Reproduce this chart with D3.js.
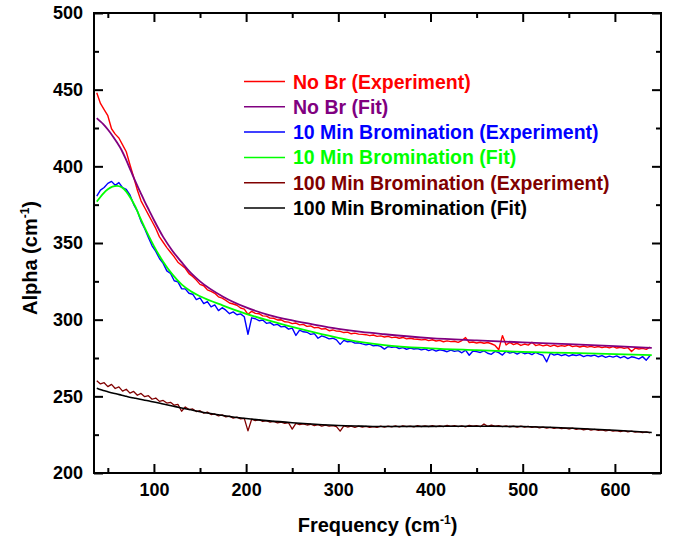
<!DOCTYPE html>
<html>
<head>
<meta charset="utf-8">
<script src="https://cdn.jsdelivr.net/npm/d3@7"></script>
<style>
  body { margin: 0; background: #fff; }
  svg text { font-family: "Liberation Sans", Arial, sans-serif; font-weight: bold; }
</style>
</head>
<body>
<svg id="chart" width="680" height="544"></svg>
<script>
// measured frequencies (cm-1) for the experiment curves, every 4 cm-1
const expFreq = d3.range(38, 639, 4);

const noBrExp = [
  448, 441, 437, 433, 424.5, 421, 418.5, 414, 409.5, 401, 393, 384.5, 377.5, 373, 368.5, 364, 359.5, 354, 350.5, 347, 344, 341, 337.5, 335.5,
  333.5, 330, 328.2, 325.8, 323, 322.1, 319.5, 318.4, 317.2, 314.9, 314, 312.6, 310.9, 310.2, 309.4, 307.6, 306.9, 303.5, 305.4, 304.1, 303.9, 302.5, 302.3, 301, 300.9, 299.8, 299.9, 298.6, 298.4, 297.4,
  297.8, 296.6, 296.9, 295.6, 295.9, 294.7, 295, 293.9, 294.1, 292.8, 293.3, 292.5, 292.4, 291.6, 291.9, 290.8, 291.2, 290.6, 290.4, 290.2, 289.6, 290, 289.1, 289.4, 288.7,
  289.1, 288.3, 288.6, 287.9, 288.4, 287.5, 287.9, 287.4, 287.2, 286.8, 287.1, 286.3, 286.9, 286.1, 286.5, 285.6, 286.2, 285.7, 285.9, 285.2, 286.4, 288.3, 285.1, 285.4, 284.8,
  285.3, 284.6, 285.1, 284.3, 283.2, 280.4, 289.6, 283.5, 285.2, 283.7, 284.6, 283.2, 284.1, 283.4, 285.3, 283.1, 283.7, 282.9, 283.5, 282.6, 283.4, 282.5, 283.1, 282.7, 283.6,
  282.4, 282.9, 282.2, 282.8, 282.1, 282.6, 281.9, 282.5, 281.8, 282.3, 281.6, 282.4, 281.5, 282, 281.3, 281.8, 279.2, 281.4, 280.9, 281.3, 280.6, 282.1
];

const min10Exp = [
  380.5, 384.5, 386.2, 388.9, 390.2, 387.6, 389.4, 386.1, 384.9, 381.3, 375.2, 370.8, 364.1, 359.3, 353.6, 348.2, 344.5, 339.9, 336.7, 331.8, 330.1, 325.4, 324.6, 320.2,
  320.1, 317.2, 316.6, 313.1, 314.2, 310.5, 311.8, 308.4, 309.6, 305.9, 307.8, 306.2, 303.9, 305.1, 303.2, 303.8, 301.9, 290.5, 301.2, 300.6, 299.3, 299.8, 297.6, 298.1, 296.4, 296.9, 295.3, 295.6, 293.8, 294.5,
  289.7, 293.2, 292.1, 291.8, 290.4, 290.9, 287.9, 289.4, 288.6, 287.5, 287.9, 286.8, 283.9, 286.5, 285.6, 285.9, 284.7, 284.9, 284.2, 283.6, 284.1, 282.9, 283.3, 282.6, 280.8,
  282.5, 281.9, 282.3, 281.2, 281.8, 280.7, 281.4, 280.9, 281.2, 280.3, 280.9, 279.8, 280.6, 279.5, 280.4, 279.9, 279.1, 280.2, 279.3, 279.8, 278.4, 280.1, 276.8, 279.6, 279.2,
  278.6, 279.7, 278.1, 277.4, 279.3, 278.5, 276.9, 279.4, 278.2, 278.8, 277.6, 278.9, 277.8, 278.4, 277.2, 278.6, 277.5, 276.8, 272.5, 278.1, 276.9, 277.6, 276.5, 277.3, 276.2,
  277.1, 276.6, 277.2, 275.9, 276.7, 276.3, 276.9, 275.8, 276.6, 275.4, 276.2, 275.6, 276.4, 275.1, 276, 274.6, 275.8, 275.3, 274.4, 275.9, 273.6, 276.5
];

const min100Exp = [
  260.2, 258.1, 258.9, 256.3, 257.8, 255.1, 256.2, 253.4, 254.6, 252.1, 253.2, 250.7, 251.9, 249.8, 250.4, 248.1, 248.9, 246.7, 247.3, 245.6, 246.1, 244.2, 244.8, 240.3,
  243.1, 241.4, 241.8, 240.1, 240.6, 239, 239.7, 238.1, 238.5, 237.2, 237.9, 236.6, 237.1, 235.8, 236.4, 235.3, 235.6, 227.5, 235.1, 234.2, 234.8, 233.6, 234.1, 233.2, 233.6, 232.7, 233.2, 232.3, 232.8, 228.6,
  232.4, 231.6, 232.1, 231.3, 231.8, 230.9, 231.5, 230.6, 231.2, 230.5, 230.9, 230.2, 227.3, 230.8, 230, 230.6, 229.8, 230.5, 229.9, 230.4, 229.7, 230.3, 229.8, 230.5, 229.9,
  230.6, 230.1, 230.7, 230, 230.8, 230.2, 230.6, 230.1, 230.9, 230.3, 230.7, 230.2, 230.9, 230.3, 230.8, 230.2, 231, 230.4, 230.9, 230.3, 230.8, 230.1, 231.1, 230.5, 230.9,
  230.2, 232, 230.4, 231.2, 230.6, 230.9, 230.3, 230.7, 230.1, 230.6, 229.9, 230.5, 230, 230.4, 229.7, 230.2, 229.5, 229.9, 229.3, 229.8, 229.1, 229.6, 228.9, 229.3, 228.7,
  229.2, 228.5, 228.9, 228.2, 228.7, 228, 228.5, 227.8, 228.2, 227.5, 228, 227.3, 227.7, 227, 227.6, 226.8, 227.3, 226.6, 227, 226.3, 226.8, 226.1
];

// fit curves, sampled coarser
const fitFreq = [38, 40, 45, 50, 55, 60, 65, 70, 75, 80, 85, 90, 95, 100, 110, 120, 130, 140, 150, 175, 200, 225, 250, 275, 300, 325, 350, 400, 450, 500, 550, 600, 640];
const noBrFit = [431.5, 430.3, 427.5, 424, 420, 415.5, 410.5, 404, 397, 390, 383.5, 377, 371, 365, 354, 345, 337.5, 330.5, 325, 315, 308, 303, 299.5, 296.6, 294, 292, 290.5, 288, 286.5, 285.2, 284, 282.8, 281.6];
const min10Fit = [377, 378.5, 382.2, 385, 386.8, 387.3, 386.3, 383.5, 379, 373.5, 366.5, 360, 353.8, 348, 337.8, 329.5, 323, 318.5, 315.3, 309.2, 303.8, 299.4, 295.3, 291.6, 288.2, 285.4, 283.4, 281.3, 280.1, 279, 278.3, 277.5, 276.9];
const min100Fit = [255.2, 254.8, 253.8, 253, 252.2, 251.5, 250.7, 250, 249.3, 248.7, 248.1, 247.5, 246.9, 246.3, 245, 243.7, 242.4, 241.2, 240, 237.5, 235.5, 234, 232.8, 231.8, 231, 230.6, 230.3, 230.4, 230.5, 230.3, 229.3, 227.9, 226.4];

const seriesNames = ['No Br (Experiment)', 'No Br (Fit)', '10 Min Bromination (Experiment)', '10 Min Bromination (Fit)', '100 Min Bromination (Experiment)', '100 Min Bromination (Fit)'];
const seriesColors = ['#ff0000', '#800080', '#0000ff', '#00ff00', '#800000', '#000000'];

const xMajor = [100, 200, 300, 400, 500, 600];
const xMinor = [50, 150, 250, 350, 450, 550];
const yMajor = [200, 250, 300, 350, 400, 450, 500];
const yMinor = [225, 275, 325, 375, 425, 475];

const W = 680, H = 544;
const margin = { top: 13, right: 19, bottom: 71, left: 94 };
const svg = d3.select('#chart');

const x = d3.scaleLinear().domain([35, 650]).range([margin.left, W - margin.right]);
const y = d3.scaleLinear().domain([200, 500]).range([H - margin.bottom, margin.top]);

svg.append('defs').append('clipPath').attr('id', 'plot-clip')
  .append('rect')
  .attr('x', margin.left).attr('y', margin.top)
  .attr('width', x.range()[1] - x.range()[0])
  .attr('height', y.range()[0] - y.range()[1]);

const plot = svg.append('g').attr('clip-path', 'url(#plot-clip)');

function pairs(xs, ys) { return xs.map((f, i) => [f, ys[i]]); }

const expLine = d3.line().x(d => x(d[0])).y(d => y(d[1]));
const fitLine = d3.line().x(d => x(d[0])).y(d => y(d[1])).curve(d3.curveMonotoneX);

// drawing order: experiments under their fits
const layers = [
  { data: pairs(expFreq, noBrExp), gen: expLine, color: seriesColors[0], w: 1.4 },
  { data: pairs(expFreq, min10Exp), gen: expLine, color: seriesColors[2], w: 1.4 },
  { data: pairs(expFreq, min100Exp), gen: expLine, color: seriesColors[4], w: 1.3 },
  { data: pairs(fitFreq, min10Fit), gen: fitLine, color: seriesColors[3], w: 1.8 },
  { data: pairs(fitFreq, noBrFit), gen: fitLine, color: seriesColors[1], w: 1.8 },
  { data: pairs(fitFreq, min100Fit), gen: fitLine, color: seriesColors[5], w: 1.6 }
];

layers.forEach(l => {
  plot.append('path')
    .attr('d', l.gen(l.data))
    .attr('fill', 'none')
    .attr('stroke', l.color)
    .attr('stroke-width', l.w)
    .attr('stroke-linejoin', 'round');
});

// axes (ticks pointing inward on all four sides)
const bottomY = H - margin.bottom, topY = margin.top;
const leftX = margin.left, rightX = W - margin.right;

function styleAxis(g) {
  g.select('.domain').remove();
  g.selectAll('.tick line').attr('stroke', '#000').attr('stroke-width', 2);
  g.selectAll('.tick text').attr('fill', '#000').style('font-size', '18px');
}

svg.append('g').attr('transform', `translate(0,${bottomY})`)
  .call(d3.axisBottom(x).tickValues(xMajor).tickSize(-9).tickPadding(10))
  .call(styleAxis);
svg.append('g').attr('transform', `translate(0,${bottomY})`)
  .call(d3.axisBottom(x).tickValues(xMinor).tickSize(-5).tickFormat(''))
  .call(styleAxis);
svg.append('g').attr('transform', `translate(0,${topY})`)
  .call(d3.axisTop(x).tickValues(xMajor).tickSize(-9).tickFormat(''))
  .call(styleAxis);
svg.append('g').attr('transform', `translate(0,${topY})`)
  .call(d3.axisTop(x).tickValues(xMinor).tickSize(-5).tickFormat(''))
  .call(styleAxis);

svg.append('g').attr('transform', `translate(${leftX},0)`)
  .call(d3.axisLeft(y).tickValues(yMajor).tickSize(-9).tickPadding(11))
  .call(styleAxis);
svg.append('g').attr('transform', `translate(${leftX},0)`)
  .call(d3.axisLeft(y).tickValues(yMinor).tickSize(-5).tickFormat(''))
  .call(styleAxis);
svg.append('g').attr('transform', `translate(${rightX},0)`)
  .call(d3.axisRight(y).tickValues(yMajor).tickSize(-9).tickFormat(''))
  .call(styleAxis);
svg.append('g').attr('transform', `translate(${rightX},0)`)
  .call(d3.axisRight(y).tickValues(yMinor).tickSize(-5).tickFormat(''))
  .call(styleAxis);

// frame
svg.append('rect')
  .attr('x', leftX).attr('y', topY)
  .attr('width', rightX - leftX).attr('height', bottomY - topY)
  .attr('fill', 'none').attr('stroke', '#000').attr('stroke-width', 2);

// axis titles
const xTitle = svg.append('text')
  .attr('x', (leftX + rightX) / 2).attr('y', 532)
  .attr('text-anchor', 'middle')
  .style('font-size', '20px');
xTitle.append('tspan').text('Frequency (cm');
xTitle.append('tspan').attr('dy', -8).style('font-size', '12px').text('-1');
xTitle.append('tspan').attr('dy', 8).text(')');

const yTitle = svg.append('text')
  .attr('transform', 'translate(37,258) rotate(-90)')
  .attr('text-anchor', 'middle')
  .style('font-size', '20px');
yTitle.append('tspan').text('Alpha (cm');
yTitle.append('tspan').attr('dy', -8).style('font-size', '12px').text('-1');
yTitle.append('tspan').attr('dy', 8).text(')');

// legend
const legend = svg.append('g');
seriesNames.forEach((name, i) => {
  const ly = 81.5 + i * 25.3;
  legend.append('line')
    .attr('x1', 244).attr('x2', 285).attr('y1', ly).attr('y2', ly)
    .attr('stroke', seriesColors[i]).attr('stroke-width', 1.5);
  legend.append('text')
    .attr('x', 293).attr('y', ly).attr('dy', '0.36em')
    .attr('fill', seriesColors[i])
    .style('font-size', '19.5px')
    .text(name);
});
</script>
</body>
</html>
